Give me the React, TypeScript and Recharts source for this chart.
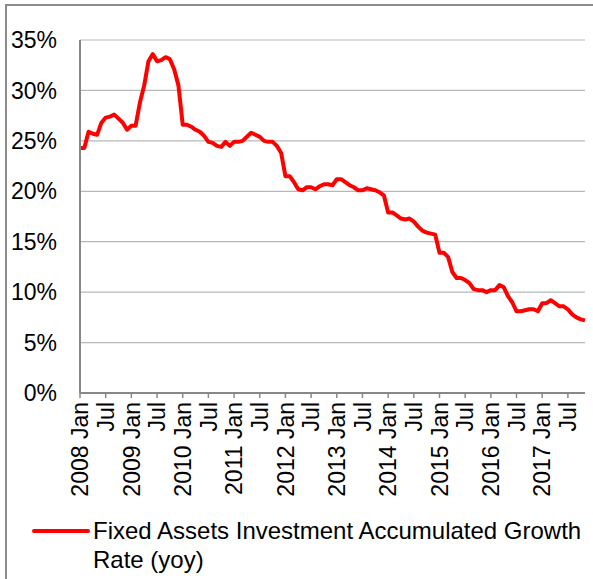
import React from 'react';
import { LineChart, Line, XAxis, YAxis, CartesianGrid, Legend } from 'recharts';

const years = ['2008', '2009', '2010', '2011', '2012', '2013', '2014', '2015', '2016', '2017'];
const v2008 = [24.3, 24.3, 25.9, 25.7, 25.6, 26.8, 27.3, 27.4, 27.6, 27.2, 26.8, 26.1];
const v2009 = [26.5, 26.5, 28.8, 30.5, 32.9, 33.6, 32.9, 33.0, 33.3, 33.1, 32.1, 30.5];
const v2010 = [26.6, 26.6, 26.4, 26.1, 25.9, 25.5, 24.9, 24.8, 24.5, 24.4, 24.9, 24.5];
const v2011 = [24.9, 24.9, 25.0, 25.4, 25.8, 25.6, 25.4, 25.0, 24.9, 24.9, 24.5, 23.8];
const v2012 = [21.5, 21.5, 20.9, 20.2, 20.1, 20.4, 20.4, 20.2, 20.5, 20.7, 20.7, 20.6];
const v2013 = [21.2, 21.2, 20.9, 20.6, 20.4, 20.1, 20.1, 20.3, 20.2, 20.1, 19.9, 19.6];
const v2014 = [17.9, 17.9, 17.6, 17.3, 17.2, 17.3, 17.0, 16.5, 16.1, 15.9, 15.8, 15.7];
const v2015 = [13.9, 13.9, 13.5, 12.0, 11.4, 11.4, 11.2, 10.9, 10.3, 10.2, 10.2, 10.0];
const v2016 = [10.2, 10.2, 10.7, 10.5, 9.6, 9.0, 8.1, 8.1, 8.2, 8.3, 8.3, 8.1];
const v2017 = [8.9, 8.9, 9.2, 8.9, 8.6, 8.6, 8.3, 7.8, 7.5, 7.3, 7.2];

const yearValues = [v2008, v2009, v2010, v2011, v2012, v2013, v2014, v2015, v2016, v2017];
const yTicks = [0, 5, 10, 15, 20, 25, 30, 35];
const seriesName = 'Fixed Assets Investment Accumulated Growth Rate (yoy)';

const data: { i: number; label: string; v: number }[] = [];
yearValues.forEach((arr, yi) => {
  arr.forEach((v, m) => {
    const label = m === 0 ? `${years[yi]} Jan` : m === 6 ? 'Jul' : '';
    data.push({ i: data.length, label, v });
  });
});
const xTicks = data.filter((d) => d.label !== '').map((d) => d.i);
const lastIndex = data.length - 1;

const FONT = '"Liberation Sans", Arial, sans-serif';

const XTick = (props: any) => {
  const { x, y, payload } = props;
  const d = data[payload.value];
  return (
    <g transform={`translate(${x},${y})`}>
      <text transform="rotate(-90)" textAnchor="end" dy="0.36em" fontSize={23} fill="#000" fontFamily={FONT}>
        {d ? d.label : ''}
      </text>
    </g>
  );
};

const LegendContent = () => (
  <div style={{ position: 'relative', width: 593, height: 60, fontFamily: FONT, fontSize: 24, lineHeight: '29px', color: '#000' }}>
    <svg width={60} height={10} style={{ position: 'absolute', left: 32, top: 10 }}>
      <line x1={2} y1={5} x2={56} y2={5} stroke="#ff0000" strokeWidth={4} strokeLinecap="round" />
    </svg>
    <div style={{ position: 'absolute', left: 93, top: 0, whiteSpace: 'nowrap' }}>
      Fixed Assets Investment Accumulated Growth
      <br />
      Rate (yoy)
    </div>
  </div>
);

export default function App() {
  return (
    <div style={{ position: 'absolute', left: 0, top: 0, width: 593, height: 579, overflow: 'hidden', background: '#fff' }}>
      <div style={{ position: 'absolute', left: 5, top: 4, width: 700, height: 700, border: '2px solid #8c8c8c' }} />
      <div style={{ position: 'absolute', left: 0, top: 0 }}>
        <LineChart width={593} height={579} data={data} margin={{ top: 40, right: 8, bottom: 0, left: 0 }}>
          <CartesianGrid horizontal vertical={false} stroke="#b8b8b8" strokeWidth={1.2} />
          <XAxis
            dataKey="i"
            type="number"
            domain={[0, lastIndex]}
            ticks={xTicks}
            interval={0}
            height={186}
            tickSize={5}
            tickMargin={4}
            tick={<XTick />}
            axisLine={{ stroke: '#888', strokeWidth: 2 }}
            tickLine={{ stroke: '#888', strokeWidth: 1.5 }}
          />
          <XAxis
            xAxisId="top"
            orientation="top"
            dataKey="i"
            type="number"
            domain={[0, lastIndex]}
            height={0}
            tick={false}
            tickLine={false}
            axisLine={{ stroke: '#888', strokeWidth: 2 }}
          />
          <YAxis
            domain={[0, 35]}
            ticks={yTicks}
            width={80}
            tickSize={0}
            tickMargin={23}
            tickFormatter={(v: number) => `${v}%`}
            tick={{ fontSize: 23, fill: '#000', fontFamily: FONT }}
            axisLine={{ stroke: '#888', strokeWidth: 2 }}
            tickLine={false}
          />
          <YAxis
            yAxisId="r"
            orientation="right"
            domain={[0, 35]}
            width={0}
            tick={false}
            tickLine={false}
            axisLine={{ stroke: '#888', strokeWidth: 2 }}
          />
          <Legend
            layout="horizontal"
            verticalAlign="middle"
            align="center"
            content={<LegendContent />}
            wrapperStyle={{ top: 516, left: 0, width: 593, height: 60 }}
          />
          <Line
            type="linear"
            dataKey="v"
            name={seriesName}
            stroke="#ff0000"
            strokeWidth={4}
            strokeLinejoin="round"
            dot={false}
            activeDot={false}
            isAnimationActive={false}
          />
        </LineChart>
      </div>
    </div>
  );
}
